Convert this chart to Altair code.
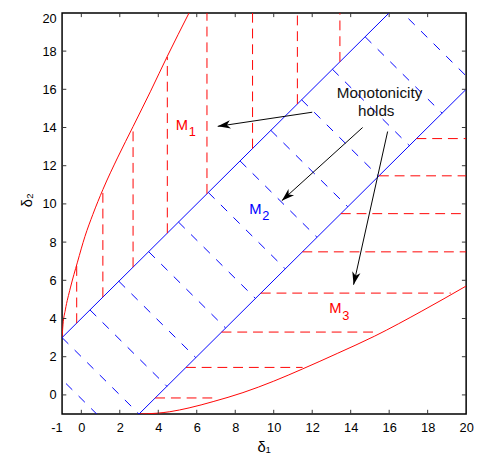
import math
import altair as alt
import pandas as pd

# ---------------- data ----------------
X_DOMAIN = [-1, 20]
Y_DOMAIN = [-1, 20]
x_tick_labels = [-1, 0, 2, 4, 6, 8, 10, 12, 14, 16, 18, 20]
y_tick_labels = [0, 2, 4, 6, 8, 10, 12, 14, 16, 18, 20]
inner_ticks = [0, 2, 4, 6, 8, 10, 12, 14, 16, 18]

# upper-left red boundary curve
upper_x = [-1.0, -0.95, -0.83, -0.57, -0.2, 0.19, 0.6, 1.12, 1.9, 2.69, 3.6, 4.47, 5.6]
upper_y = [3.0, 3.7, 4.45, 5.6, 6.95, 8.3, 9.45, 10.75, 12.45, 14.05, 15.9, 17.73, 20.0]
# lower-right red boundary curve
lower_x = [3.0, 3.9, 4.6, 5.6, 6.85, 8.4, 10.0, 11.5, 13.3, 15.25, 17.7, 20.0]
lower_y = [-1.0, -0.96, -0.88, -0.68, -0.35, 0.12, 0.72, 1.36, 2.17, 3.08, 4.39, 5.7]

# blue solid band edges
band_x1 = [-1, 3]
band_y1 = [3, -1]
band_x2 = [16, 20]
band_y2 = [20, 16]

# blue dashed cross lines  x + y = c
cross_c = [-0.2, 2.0, 4.9, 7.9, 11.0, 14.1, 17.2, 20.5, 23.7, 26.9, 30.1, 33.5, 36.7]

# red vertical dashed lines (region M1)
vert_x = [-0.24, 1.12, 2.69, 4.47, 6.53, 8.9, 11.23, 13.44]
vert_lo = [3.76, 5.12, 6.69, 8.47, 10.53, 12.9, 15.23, 17.44]
vert_hi = [6.8, 10.7, 14.0, 17.7, 20.0, 20.0, 20.0, 20.0]

# red horizontal dashed lines (region M3)
hor_y = [-0.16, 1.44, 3.29, 5.33, 7.49, 9.49, 11.47, 13.42]
hor_lo = [3.84, 5.44, 7.29, 9.33, 11.49, 13.49, 15.47, 17.42]
hor_hi = [6.95, 11.5, 15.25, 19.2, 20.0, 20.0, 20.0, 20.0]

# annotation arrows (start -> tip)
arrow_x1 = [12.0, 14.62, 15.92]
arrow_y1 = [14.8, 14.0, 13.79]
arrow_x2 = [7.09, 10.42, 14.15]
arrow_y2 = [14.06, 10.17, 5.77]

note_text = ["Monotonicity", "holds"]
note_x = [15.5, 15.33]
note_y = [15.8, 14.85]

region_main = ["M", "M", "M"]
region_sub = ["1", "2", "3"]
region_x = [5.23, 9.05, 13.21]
region_y = [14.15, 9.75, 4.55]
region_color = ["#ff0000", "#0000ff", "#ff0000"]

# ---------------- chart ----------------
W, H = 411, 408
FONT = "Liberation Sans"
RED = "#ff0000"
BLUE = "#0000ff"

xs = alt.Scale(domain=X_DOMAIN, nice=False, zero=False)
ys = alt.Scale(domain=Y_DOMAIN, nice=False, zero=False)

curves = pd.DataFrame(
    {"x": upper_x + lower_x,
     "y": upper_y + lower_y,
     "curve": ["upper"] * len(upper_x) + ["lower"] * len(lower_x),
     "o": list(range(len(upper_x))) + list(range(len(lower_x)))}
)
band = pd.DataFrame({"x": band_x1, "y": band_y1, "x2": band_x2, "y2": band_y2})
cross = pd.DataFrame(
    {"x": [(c - 4) / 2 for c in cross_c], "y": [(c + 4) / 2 for c in cross_c],
     "x2": [(c + 4) / 2 for c in cross_c], "y2": [(c - 4) / 2 for c in cross_c]}
)
vert = pd.DataFrame({"x": vert_x, "y": vert_lo, "y2": vert_hi})
hor = pd.DataFrame({"y": hor_y, "x": hor_lo, "x2": hor_hi})

kx = W / (X_DOMAIN[1] - X_DOMAIN[0])
ky = H / (Y_DOMAIN[1] - Y_DOMAIN[0])
angles = []
for a, b, c, d in zip(arrow_x1, arrow_y1, arrow_x2, arrow_y2):
    ang = math.degrees(math.atan2(-(d - b) * ky, (c - a) * kx)) % 360
    angles.append(ang)
arrows = pd.DataFrame({"x": arrow_x1, "y": arrow_y1, "x2": arrow_x2, "y2": arrow_y2})
heads = pd.DataFrame({"x": arrow_x2, "y": arrow_y2, "ang": angles})
notes = pd.DataFrame({"t": note_text, "x": note_x, "y": note_y})
regions = pd.DataFrame({"m": region_main, "s": region_sub, "x": region_x, "y": region_y,
                        "c": region_color})

tick_rows = []
for v in inner_ticks:
    tick_rows.append({"x": v, "y": Y_DOMAIN[0], "x2": v, "y2": Y_DOMAIN[0] + 0.22})
    tick_rows.append({"x": v, "y": Y_DOMAIN[1], "x2": v, "y2": Y_DOMAIN[1] - 0.22})
    tick_rows.append({"x": X_DOMAIN[0], "y": v, "x2": X_DOMAIN[0] + 0.22, "y2": v})
    tick_rows.append({"x": X_DOMAIN[1], "y": v, "x2": X_DOMAIN[1] - 0.22, "y2": v})
ticks = pd.DataFrame(tick_rows)

x_axis = alt.Axis(values=x_tick_labels, grid=False, ticks=False, tickSize=0, domain=False,
                  labelFont=FONT, labelFontSize=13, labelColor="#000", labelPadding=8,
                  labelExpr="datum.value + ''", labelFlush=False, labelOverlap=False,
                  labelSeparation=0,
                  labelAlign={"condition": {"test": "datum.value == -1", "value": "right"},
                              "value": "center"},
                  title="δ₁", titleFont=FONT, titleFontSize=15, titleFontWeight="normal",
                  titleColor="#000", titleX=205, titleY=38, titleBaseline="alphabetic",
                  titleAlign="center")
y_axis = alt.Axis(values=y_tick_labels, grid=False, ticks=False, tickSize=0, domain=False,
                  labelFont=FONT, labelFontSize=13, labelColor="#000", labelPadding=6,
                  labelExpr="datum.value + ''", labelFlush=False, labelOverlap=False,
                  labelBaseline={"condition": {"test": "datum.value == 20", "value": "top"},
                                 "value": "middle"},
                  title="δ₂", titleFont=FONT, titleFontSize=15, titleFontWeight="normal",
                  titleColor="#000", titleX=-31, titleY=190, titleBaseline="alphabetic",
                  titleAlign="center", titleAngle=270)


def X(field="x"):
    return alt.X(f"{field}:Q", scale=xs, axis=x_axis)


def Y(field="y"):
    return alt.Y(f"{field}:Q", scale=ys, axis=y_axis)


curve_layer = alt.Chart(curves).mark_line(color=RED, strokeWidth=1, clip=True,
                                          interpolate="monotone").encode(
    x=X(), y=Y(), detail="curve:N", order="o:Q")

band_layer = alt.Chart(band).mark_rule(color=BLUE, strokeWidth=1, clip=True).encode(
    x=X(), y=Y(), x2="x2:Q", y2="y2:Q")

cross_layer = alt.Chart(cross).mark_rule(color=BLUE, strokeWidth=1, strokeDash=[9, 9],
                                         clip=True).encode(
    x=X(), y=Y(), x2="x2:Q", y2="y2:Q")

vert_layer = alt.Chart(vert).mark_rule(color=RED, strokeWidth=1, strokeDash=[10, 6],
                                       clip=True).encode(
    x=X(), y=Y(), y2="y2:Q")

hor_layer = alt.Chart(hor).mark_rule(color=RED, strokeWidth=1, strokeDash=[10, 6],
                                     clip=True).encode(
    y=Y(), x=X(), x2="x2:Q")

tick_layer = alt.Chart(ticks).mark_rule(color="#333333", strokeWidth=1).encode(
    x=X(), y=Y(), x2="x2:Q", y2="y2:Q")

arrow_layer = alt.Chart(arrows).mark_rule(color="#000000", strokeWidth=1).encode(
    x=X(), y=Y(), x2="x2:Q", y2="y2:Q")

head_layer = alt.Chart(heads).mark_point(
    shape="M0,0 L-2,-0.65 L-1.45,0 L-2,0.65 Z", filled=True, size=169,
    color="#000000", opacity=1, strokeWidth=0).encode(
    x=X(), y=Y(), angle=alt.Angle("ang:Q", scale=None))

note_layer = alt.Chart(notes).mark_text(font=FONT, fontSize=15.5, color="#111111",
                                        align="center", baseline="middle").encode(
    x=X(), y=Y(), text="t:N")

region_layer = alt.Chart(regions).mark_text(font=FONT, fontSize=15, align="center",
                                            baseline="middle").encode(
    x=X(), y=Y(), text="m:N", color=alt.Color("c:N", scale=None))

sub_layer = alt.Chart(regions).mark_text(font=FONT, fontSize=13, align="center",
                                         baseline="middle", dx=10.5, dy=8).encode(
    x=X(), y=Y(), text="s:N", color=alt.Color("c:N", scale=None))

chart = alt.layer(
    curve_layer, band_layer, cross_layer, vert_layer, hor_layer, tick_layer,
    arrow_layer, head_layer, note_layer, region_layer, sub_layer
).properties(
    width=W, height=H,
    autosize=alt.AutoSizeParams(type="none"),
    padding={"left": 55, "top": 1, "right": 8, "bottom": 55},
    background="white",
).configure_view(
    stroke="#000000", strokeWidth=1.5
).configure_axis(
    labelOverlap=False
)

chart.save("out.html", embed_options={"renderer": "svg", "actions": False})
